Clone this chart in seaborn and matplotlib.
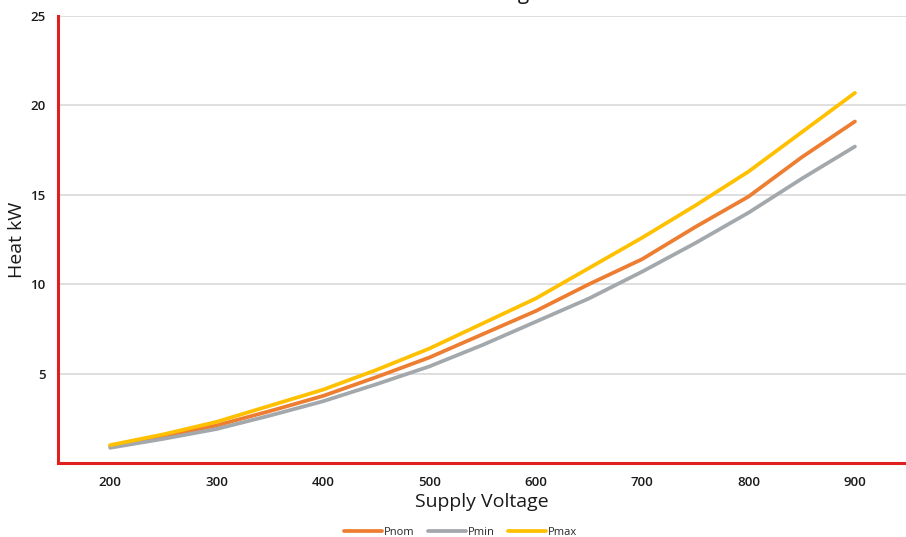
import pandas as pd
import matplotlib
matplotlib.use("Agg")
import matplotlib.pyplot as plt
import seaborn as sns

# values
voltage = [200, 250, 300, 350, 400, 450, 500, 550, 600, 650, 700, 750, 800, 850, 900]
pnom = [0.95, 1.5, 2.1, 2.9, 3.75, 4.8, 5.9, 7.2, 8.5, 10.0, 11.4, 13.2, 14.9, 17.1, 19.1]
pmin = [0.85, 1.35, 1.9, 2.65, 3.45, 4.4, 5.4, 6.6, 7.9, 9.2, 10.7, 12.3, 14.0, 15.9, 17.7]
pmax = [1.0, 1.6, 2.3, 3.2, 4.1, 5.2, 6.4, 7.8, 9.2, 10.9, 12.6, 14.4, 16.3, 18.5, 20.7]
series_names = ["Pnom", "Pmin", "Pmax"]
colors = {"Pnom": "#ED7D31", "Pmin": "#A3A8AC", "Pmax": "#FFC000"}
y_ticks = [5, 10, 15, 20, 25]
x_ticks = [200, 300, 400, 500, 600, 700, 800, 900]

df = pd.DataFrame({"voltage": voltage, "Pnom": pnom, "Pmin": pmin, "Pmax": pmax})
long_df = df.melt(id_vars="voltage", value_vars=series_names, var_name="series", value_name="heat")

sns.set_theme(style="white")
plt.rcParams['font.family'] = ['Open Sans', 'DejaVu Sans']

fig = plt.figure(figsize=(9.06, 5.37), dpi=100)
ax = fig.add_axes([58 / 906, 74 / 537, 1 - 58 / 906, 447 / 537])

sns.lineplot(data=long_df, x="voltage", y="heat", hue="series", hue_order=series_names,
             palette=colors, linewidth=2.7, ax=ax, legend=True)

ax.set_xlim(151, 948)
ax.set_ylim(0, 25)
ax.set_xticks(x_ticks)
ax.set_yticks(y_ticks)
ax.tick_params(axis='both', length=0, labelsize=9.5, colors='#1a1a1a')
ax.tick_params(axis='x', pad=9)
ax.tick_params(axis='y', pad=9)
for lab in ax.get_xticklabels() + ax.get_yticklabels():
    lab.set_fontweight('semibold')
ax.yaxis.grid(True, color='#d9d9d9', linewidth=1.2)
ax.xaxis.grid(False)

for side in ['top', 'right']:
    ax.spines[side].set_visible(False)
for side in ['left', 'bottom']:
    ax.spines[side].set_color('#E0201F')
    ax.spines[side].set_linewidth(2.2)

ax.set_xlabel("Supply Voltage", fontsize=14, color='#1a1a1a', labelpad=3, fontweight='medium')
ax.set_ylabel("Heat kW", fontsize=14, color='#1a1a1a', labelpad=3, fontweight='medium')

# title sits mostly above the figure edge in the reference
fig.text(0.597, 1 + 1.5 / 537, "Heat vs Voltage", ha='right', va='baseline',
         fontsize=15, color='#1a1a1a')

handles, labels = ax.get_legend_handles_labels()
ax.legend(handles, labels, loc='center', bbox_to_anchor=(0.475, -0.155), ncol=3,
          frameon=False, fontsize=8, handlelength=3.4, columnspacing=1.2, handletextpad=0.2)

fig.savefig("out.png", dpi=100)
